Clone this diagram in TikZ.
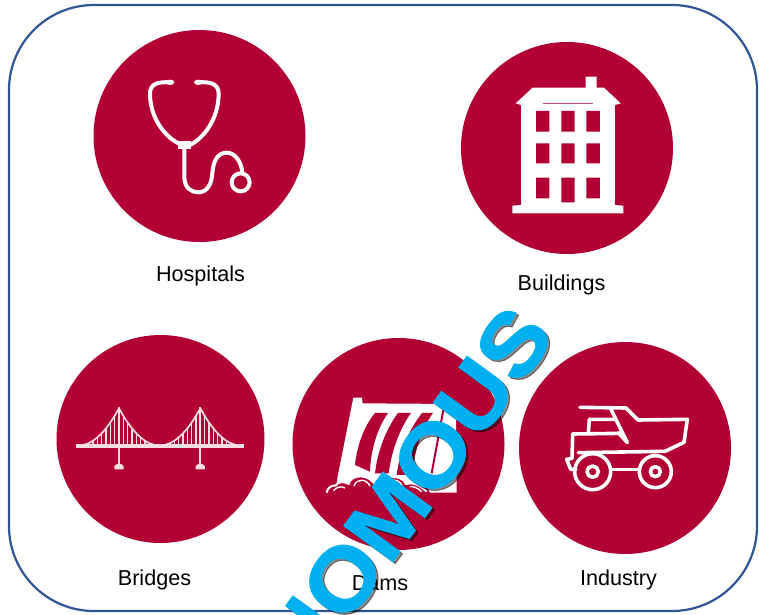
\documentclass[tikz,border=0pt]{standalone}
\usepackage{fontspec}
\setmainfont{Liberation Sans}
\newfontfamily\stampfont[BoldFeatures={FakeBold=1.2,FakeStretch=1.08}]{Liberation Sans}
\definecolor{crim}{HTML}{B20034}
\definecolor{frame}{HTML}{2F5597}
\definecolor{sky}{HTML}{00B0F0}
\definecolor{pale}{HTML}{F9DDE3}
\tikzset{
  disc/.style={circle,fill=crim,draw=none,minimum size=212pt,inner sep=0pt},
  caption/.style={font=\fontsize{21.6}{24}\selectfont,text=black,inner sep=0pt},
  icon/.style={draw=white,line width=4pt,line cap=round,line join=round},
  stamp/.style={font=\stampfont\fontsize{88}{88}\bfseries\selectfont,rotate=54,inner sep=0pt,text height=63pt,text depth=0pt},
  zoomed/.style={x=0.3333pt,y=-0.3333pt}
}
\begin{document}
\begin{tikzpicture}[x=1pt,y=-1pt]
\useasboundingbox (0,0) rectangle (759,614);
\clip (0,0) rectangle (759,614);
\fill[white] (0,0) rectangle (759,614);
\draw[frame,line width=2.2pt,rounded corners=85pt] (9,5) rectangle (757,611);

\node[disc] (hospital) at (199.5,136) {};
\node[disc] (building) at (567,148) {};
\node[disc,minimum size=208pt] (bridge) at (160.5,439) {};
\node[disc] (dam) at (398.5,444) {};
\node[disc] (industry) at (625,448) {};

\node[caption] (lh) at (200.5,276) {Hospitals};
\node[caption] (lb) at (561.5,285) {Buildings};
\node[caption] (lr) at (154.5,580) {Bridges};
\node[caption] (ld) at (380,583) {Dams};
\node[caption] (li) at (618.5,580) {Industry};

% stethoscope
\begin{scope}[shift={(90,30)},zoomed]
\draw[icon] (240,157) .. controls (205,155) and (178,160) .. (180,195) .. controls (182,270) and (230,325) .. (270,342);
\draw[icon] (325,157) .. controls (360,155) and (388,160) .. (386,195) .. controls (384,270) and (340,325) .. (300,345);
\fill[white] (240,157) ellipse (13 and 8) (325,157) ellipse (13 and 8);
\fill[white] (263,332) rectangle (304,358);
\draw[icon] (283,350) -- (283,440) .. controls (283,475) and (305,487) .. (325,487) .. controls (350,487) and (365,465) .. (367,430) .. controls (370,390) and (385,368) .. (410,368) .. controls (435,368) and (455,395) .. (457,430);
\draw[icon] (452,457) circle (27);
\end{scope}

% building
\begin{scope}[shift={(460,40)},zoomed]
\fill[white] (377,110) -- (410,110) -- (410,143) -- (432,143) -- (482,190) -- (465,195) -- (465,495) -- (490,497) -- (490,520) -- (157,520) -- (157,497) -- (183,495) -- (183,195) -- (167,190) -- (218,143) -- (377,143) -- cycle;
\fill[crim] (228,213) rectangle (268,275) (304,213) rectangle (344,275) (379,213) rectangle (420,275)
 (228,310) rectangle (268,370) (304,310) rectangle (344,370) (379,310) rectangle (420,370)
 (228,413) rectangle (268,475) (304,413) rectangle (344,487) (379,413) rectangle (420,475);
\draw[crim!70!white,line width=1pt] (248,190) -- (400,190);
\end{scope}

% bridge
\begin{scope}[shift={(50,380)},zoomed]
\foreach \tx in {207,451}{
  \foreach \d in {13,26,...,104}{
    \pgfmathsetmacro{\hy}{197-112*(1-\d/123)^2}
    \draw[pale,line width=1.1pt] (\tx-\d,\hy) -- (\tx-\d,197);
    \draw[pale,line width=1.1pt] (\tx+\d,\hy) -- (\tx+\d,197);
  }
  \draw[pale,line width=2.2pt] (\tx,82) -- (\tx,255);
  \draw[pale,line width=1.7pt] (\tx,85) .. controls (\tx-41,160) and (\tx-82,197) .. (\tx-123,197);
  \draw[pale,line width=1.7pt] (\tx,85) .. controls (\tx+41,160) and (\tx+82,197) .. (\tx+123,197);
  \fill[pale] (\tx-14,268) -- (\tx-14,258) -- (\tx-6,252) -- (\tx+6,252) -- (\tx+14,258) -- (\tx+14,268) -- cycle;
}
\draw[pale,line width=4pt] (77,199) -- (582,199);
\end{scope}

% dam
\begin{scope}[shift={(280,300)},zoomed]
\fill[white] (220,293) -- (246,293) -- (248,310) -- (528,312) -- (530,578) -- (450,578) -- (440,560) -- (170,560) -- (172,535) -- cycle;
\fill[crim] (285,339) -- (324,339) .. controls (292,385) and (272,450) .. (270,515) -- (225,495) .. controls (232,430) and (255,375) .. (285,339) -- cycle;
\fill[crim] (354,339) -- (393,339) .. controls (360,385) and (335,450) .. (326,520) -- (285,520) .. controls (293,450) and (320,385) .. (354,339) -- cycle;
\fill[crim] (426,339) -- (459,339) .. controls (425,385) and (405,450) .. (395,525) -- (350,525) .. controls (360,450) and (390,385) .. (426,339) -- cycle;
\draw[crim,line width=2pt] (490,330) -- (455,520);
\filldraw[fill=crim,draw=white,line width=2pt] (140,578) .. controls (142,565) and (152,556) .. (168,556) .. controls (172,545) and (192,543) .. (206,552) .. controls (212,522) and (270,518) .. (288,560) .. controls (300,525) and (365,520) .. (378,552) .. controls (395,545) and (420,555) .. (440,575);
\draw[white,line width=1.4pt] (222,558) .. controls (230,535) and (258,535) .. (270,558) (318,555) .. controls (330,535) and (355,535) .. (366,556) (160,572) .. controls (170,560) and (185,558) .. (195,564) (390,560) .. controls (400,558) and (415,565) .. (425,575);
\end{scope}

% truck
\begin{scope}[shift={(550,390)},zoomed]
\begin{scope}[icon,line width=3.6pt]
\draw (90,52) -- (228,54) -- (264,90) -- (412,88) -- (402,157) -- (345,184);
\draw (182,56) -- (232,158) -- (205,128);
\draw (115,128) -- (118,88) -- (195,88);
\draw (68,132) -- (218,130);
\draw (68,132) -- (66,205) -- (50,208) -- (62,238) -- (78,238);
\draw (85,188) -- (345,184);
\draw (188,238) -- (268,238);
\draw (128,245) circle (54);
\draw (128,245) circle (17);
\draw (316,245) circle (48);
\draw (316,245) circle (15);
\end{scope}
\end{scope}

\node[stamp,text=black,text opacity=0.45] (shade) at (408,492.5) {NOMOUS};
\node[stamp,text=sky] (mark) at (405.5,490.4) {NOMOUS};
\end{tikzpicture}
\end{document}
